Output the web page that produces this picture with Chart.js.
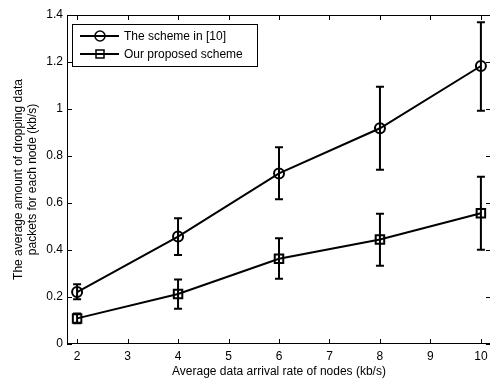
<!DOCTYPE html>
<html>
<head>
<meta charset="utf-8">
<script src="https://cdn.jsdelivr.net/npm/chart.js@4.4.0/dist/chart.umd.min.js"></script>
<style>
  html, body { margin: 0; padding: 0; background: #fff; overflow: hidden; }
  #wrap { width: 490px; height: 382px; overflow: hidden; }
  canvas { display: block; }
</style>
</head>
<body>
<div id="wrap"><canvas id="myChart" width="500" height="382"></canvas></div>
<script>
// values
const rates = [2, 4, 6, 8, 10];
const refMean = [0.221, 0.457, 0.726, 0.918, 1.183];
const refLow = [0.190, 0.379, 0.616, 0.742, 0.993];
const refHigh = [0.254, 0.535, 0.837, 1.095, 1.369];
const oursMean = [0.109, 0.213, 0.363, 0.445, 0.556];
const oursLow = [0.088, 0.150, 0.278, 0.333, 0.401];
const oursHigh = [0.130, 0.275, 0.450, 0.554, 0.712];
const xTicks = [2, 3, 4, 5, 6, 7, 8, 9, 10];
const yTicks = [0, 0.2, 0.4, 0.6, 0.8, 1, 1.2, 1.4];
const yTickLabels = ["0", "0.2", "0.4", "0.6", "0.8", "1", "1.2", "1.4"];
const seriesNames = ["The scheme in [10]", "Our proposed scheme"];

const FONT = '"Liberation Sans", Arial, sans-serif';
const ctx = document.getElementById("myChart");

function points(ys) {
  return rates.map((x, i) => ({ x: x, y: ys[i] }));
}

// error bars + box with inward ticks + legend
const matlabLook = {
  id: "matlabLook",
  afterDatasetsDraw(chart) {
    const c = chart.ctx;
    const xs = chart.scales.x, ys = chart.scales.y;
    const sets = [[refLow, refHigh], [oursLow, oursHigh]];
    c.save();
    c.strokeStyle = "#000";
    c.lineWidth = 2;
    sets.forEach(function (s) {
      for (let i = 0; i < rates.length; i++) {
        const px = xs.getPixelForValue(rates[i]);
        const lo = ys.getPixelForValue(s[0][i]);
        const hi = ys.getPixelForValue(s[1][i]);
        c.beginPath();
        c.moveTo(px, lo); c.lineTo(px, hi);
        c.moveTo(px - 4, lo); c.lineTo(px + 4, lo);
        c.moveTo(px - 4, hi); c.lineTo(px + 4, hi);
        c.stroke();
      }
    });
    c.restore();
  },
  afterDraw(chart) {
    const c = chart.ctx;
    const a = chart.chartArea;
    const xs = chart.scales.x, ys = chart.scales.y;
    c.save();
    c.strokeStyle = "#000";
    c.lineWidth = 1;
    c.strokeRect(a.left + 0.5, a.top + 0.5, a.right - a.left - 1, a.bottom - a.top - 1);
    c.beginPath();
    xTicks.forEach(function (v) {
      const px = Math.round(xs.getPixelForValue(v)) + 0.5;
      c.moveTo(px, a.bottom); c.lineTo(px, a.bottom - 5);
      c.moveTo(px, a.top); c.lineTo(px, a.top + 5);
    });
    yTicks.forEach(function (v) {
      const py = Math.round(ys.getPixelForValue(v)) + 0.5;
      c.moveTo(a.left, py); c.lineTo(a.left + 5, py);
      c.moveTo(a.right, py); c.lineTo(a.right - 5, py);
    });
    c.stroke();

    // legend
    const lx = 72, ly = 24, lw = 185, lh = 42;
    c.fillStyle = "#fff";
    c.fillRect(lx, ly, lw, lh);
    c.strokeRect(lx + 0.5, ly + 0.5, lw, lh);
    c.font = "12px " + FONT;
    c.textBaseline = "middle";
    c.textAlign = "left";
    const rows = [36, 54];
    rows.forEach(function (ry, i) {
      c.lineWidth = 2;
      c.beginPath();
      c.moveTo(80, ry); c.lineTo(119, ry);
      c.stroke();
      c.lineWidth = 1.5;
      c.beginPath();
      if (i === 0) c.arc(100, ry, 5, 0, Math.PI * 2);
      else c.rect(96, ry - 4, 8, 8);
      c.stroke();
      c.fillStyle = "#000";
      c.fillText(seriesNames[i], 124, ry + 1);
    });
    c.restore();
  }
};

new Chart(ctx, {
  type: "line",
  data: {
    datasets: [
      {
        label: seriesNames[0],
        data: points(refMean),
        borderColor: "#000",
        borderWidth: 2,
        backgroundColor: "rgba(0,0,0,0)",
        pointStyle: "circle",
        pointRadius: 5,
        pointBorderWidth: 2,
        pointBorderColor: "#000",
        pointBackgroundColor: "rgba(0,0,0,0)",
        tension: 0,
      },
      {
        label: seriesNames[1],
        data: points(oursMean),
        borderColor: "#000",
        borderWidth: 2,
        backgroundColor: "rgba(0,0,0,0)",
        pointStyle: "rect",
        pointRadius: 6,
        pointBorderWidth: 2,
        pointBorderColor: "#000",
        pointBackgroundColor: "rgba(0,0,0,0)",
        tension: 0,
      },
    ],
  },
  options: {
    responsive: false,
    animation: false,
    layout: { padding: { top: 15, right: 9, left: 0, bottom: 0 } },
    plugins: {
      legend: { display: false },
      tooltip: { enabled: false },
    },
    scales: {
      x: {
        type: "linear",
        min: 1.8,
        max: 10.2,
        afterBuildTicks: function (scale) {
          scale.ticks = xTicks.map(v => ({ value: v }));
        },
        afterFit: function (scale) { scale.height = 38; },
        grid: { display: false, drawTicks: false },
        border: { display: false },
        ticks: {
          color: "#000",
          padding: 5,
          maxRotation: 0,
          autoSkip: false,
          font: { family: FONT, size: 12 },
          callback: v => String(v),
        },
        title: {
          display: true,
          text: "Average data arrival rate of nodes (kb/s)",
          color: "#000",
          font: { family: FONT, size: 12 },
          padding: { top: 0, bottom: 3 },
        },
      },
      y: {
        min: 0,
        max: 1.4,
        afterBuildTicks: function (scale) {
          scale.ticks = yTicks.map(v => ({ value: v }));
        },
        afterFit: function (scale) { scale.width = 67; },
        grid: { display: false, drawTicks: false },
        border: { display: false },
        ticks: {
          color: "#000",
          padding: 4,
          autoSkip: false,
          font: { family: FONT, size: 12 },
          callback: function (v, i) { return yTickLabels[i]; },
        },
        title: {
          display: true,
          text: ["The average amount of dropping data", "packets for each node (kb/s)"],
          color: "#000",
          font: { family: FONT, size: 12 },
          padding: { top: 11, bottom: 0 },
        },
      },
    },
  },
  plugins: [matlabLook],
});
</script>
</body>
</html>
